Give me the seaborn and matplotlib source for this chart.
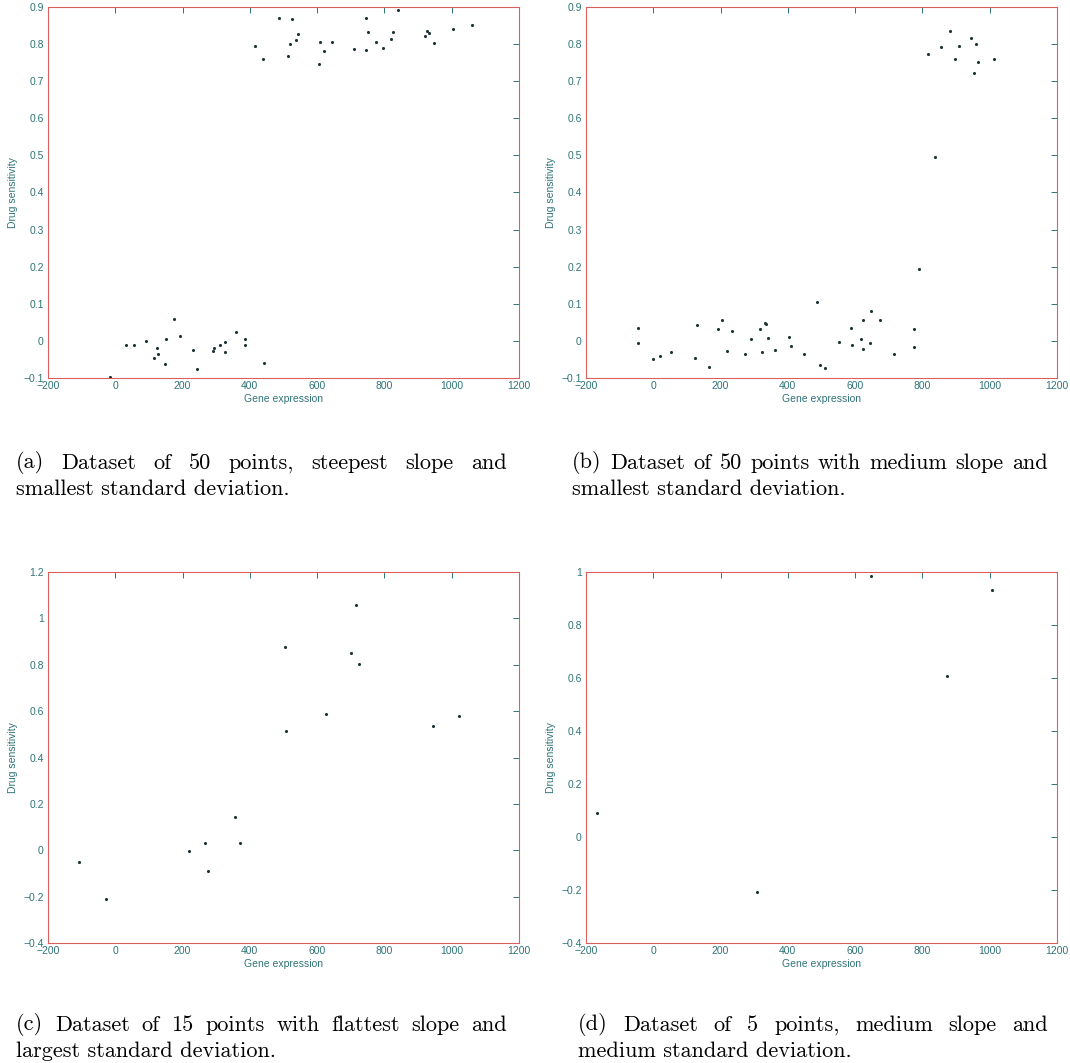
import matplotlib
matplotlib.use("Agg")
import matplotlib.pyplot as plt
import matplotlib.ticker as mticker
import pandas as pd
import seaborn as sns

sns.set_style("white")
plt.rcParams["font.family"] = ["Liberation Sans", "DejaVu Sans"]

# (a) 50 points, steepest slope
a_x = [-17, 33, 57, 92, 123, 115, 128, 151, 148, 176, 192, 232, 242, 290, 294,
       310, 325, 327, 360, 386, 386, 442,
       415, 440, 488, 526, 513, 518, 537, 543, 605, 609, 620, 644, 711, 744,
       751, 744, 774, 797, 821, 825, 841, 922, 928, 932, 946, 1005, 1060]
a_y = [-0.098, -0.010, -0.010, 0.001, -0.018, -0.046, -0.034, 0.005, -0.062,
       0.060, 0.013, -0.025, -0.076, -0.028, -0.019, -0.010, -0.003, -0.031,
       0.023, 0.004, -0.012, -0.059,
       0.795, 0.759, 0.871, 0.867, 0.769, 0.799, 0.811, 0.827, 0.746, 0.805,
       0.782, 0.805, 0.786, 0.871, 0.832, 0.783, 0.805, 0.790, 0.814, 0.832,
       0.891, 0.823, 0.836, 0.829, 0.804, 0.841, 0.852]

# (b) 50 points, medium slope
b_x = [-44, -44, 0, 21, 53, 125, 129, 167, 193, 203, 218, 233, 274, 289, 318,
       324, 333, 336, 342, 362, 403, 408, 447, 486, 495, 511, 552, 587, 591,
       617, 624, 624, 644, 647, 675, 715, 775, 775, 791, 816, 837, 856, 881,
       896, 910, 944, 959, 952, 966, 1014]
b_y = [0.036, -0.005, -0.048, -0.042, -0.029, -0.046, 0.042, -0.070, 0.032,
       0.057, -0.027, 0.026, -0.035, 0.006, 0.032, -0.031, 0.049, 0.046, 0.008,
       -0.025, 0.011, -0.015, -0.034, 0.105, -0.064, -0.074, -0.003, 0.036,
       -0.010, 0.006, 0.055, -0.021, -0.006, 0.080, 0.056, -0.036, 0.032,
       -0.017, 0.195, 0.773, 0.496, 0.791, 0.836, 0.759, 0.795, 0.816, 0.801,
       0.723, 0.753, 0.759]

# (c) 15 points, flattest slope
c_x = [-108, -28, 219, 268, 276, 357, 372, 504, 507, 627, 702, 716, 725, 945, 1023]
c_y = [-0.049, -0.212, -0.002, 0.031, -0.088, 0.142, 0.031, 0.877, 0.516,
       0.586, 0.852, 1.056, 0.803, 0.537, 0.579]

# (d) 5 points
d_x = [-166, 309, 647, 874, 1006]
d_y = [0.091, -0.206, 0.985, 0.608, 0.933]

x_ticks = [-200, 0, 200, 400, 600, 800, 1000, 1200]
y_ticks_ab = [-0.1, 0, 0.1, 0.2, 0.3, 0.4, 0.5, 0.6, 0.7, 0.8, 0.9]
y_ticks_c = [-0.4, -0.2, 0, 0.2, 0.4, 0.6, 0.8, 1, 1.2]
y_ticks_d = [-0.4, -0.2, 0, 0.2, 0.4, 0.6, 0.8, 1]

captions = [
    ["(a) Dataset of 50 points, steepest slope and", "smallest standard deviation."],
    ["(b) Dataset of 50 points with medium slope and", "smallest standard deviation."],
    ["(c) Dataset of 15 points with flattest slope and", "largest standard deviation."],
    ["(d) Dataset of 5 points, medium slope and", "medium standard deviation."],
]

W, H = 1070, 1063
fig = plt.figure(figsize=(W / 100, H / 100), dpi=100)

teal = "#2f7478"
red = "#d9605c"
dot = "#1c3436"

panels = [
    (a_x, a_y, y_ticks_ab, (48, 7)),
    (b_x, b_y, y_ticks_ab, (586, 7)),
    (c_x, c_y, y_ticks_c, (48, 572)),
    (d_x, d_y, y_ticks_d, (586, 572)),
]

fmt = mticker.FuncFormatter(lambda v, p: ("%g" % round(v, 3)).replace("-", "\u2212"))

for xs, ys, yt, (px, py) in panels:
    ax = fig.add_axes([px / W, 1 - (py + 371) / H, 471 / W, 371 / H])
    df = pd.DataFrame({"x": xs, "y": ys})
    sns.scatterplot(data=df, x="x", y="y", ax=ax, s=5, color=dot, linewidth=0)
    ax.set_xlim(-200, 1200)
    ax.set_ylim(yt[0], yt[-1])
    ax.set_xticks(x_ticks)
    ax.set_yticks(yt)
    ax.xaxis.set_major_formatter(fmt)
    ax.yaxis.set_major_formatter(fmt)
    ax.tick_params(direction="in", top=True, right=True, length=4, width=0.7,
                   color=teal, labelcolor=teal, labelsize=7.5)
    ax.tick_params(axis="x", pad=2)
    ax.tick_params(axis="y", pad=3)
    for s in ax.spines.values():
        s.set_color(red)
        s.set_linewidth(0.8)
    ax.set_xlabel("Gene expression", fontsize=7.5, color=teal, labelpad=2)
    ax.set_ylabel("Drug sensitivity", fontsize=7.5, color=teal, labelpad=4)

# captions, first line justified like the LaTeX source
renderer = fig.canvas.get_renderer()
cap_kw = dict(family="cmr10", fontsize=16, color="black", va="center")
cap_spots = [(16, 507, 463), (572, 1048, 463), (16, 507, 1025), (578, 1048, 1025)]
for (line1, line2), (x0, x1, yc) in zip(captions, cap_spots):
    words = line1.split()
    texts = [fig.text(0, 1 - yc / H, w, **cap_kw) for w in words]
    widths = [t.get_window_extent(renderer).width for t in texts]
    gap = ((x1 - x0) - sum(widths)) / (len(words) - 1)
    x = x0
    for t, w in zip(texts, widths):
        t.set_x(x / W)
        x += w + gap
    fig.text(x0 / W, 1 - (yc + 26) / H, line2, **cap_kw)

fig.savefig("out.png", dpi=100)
